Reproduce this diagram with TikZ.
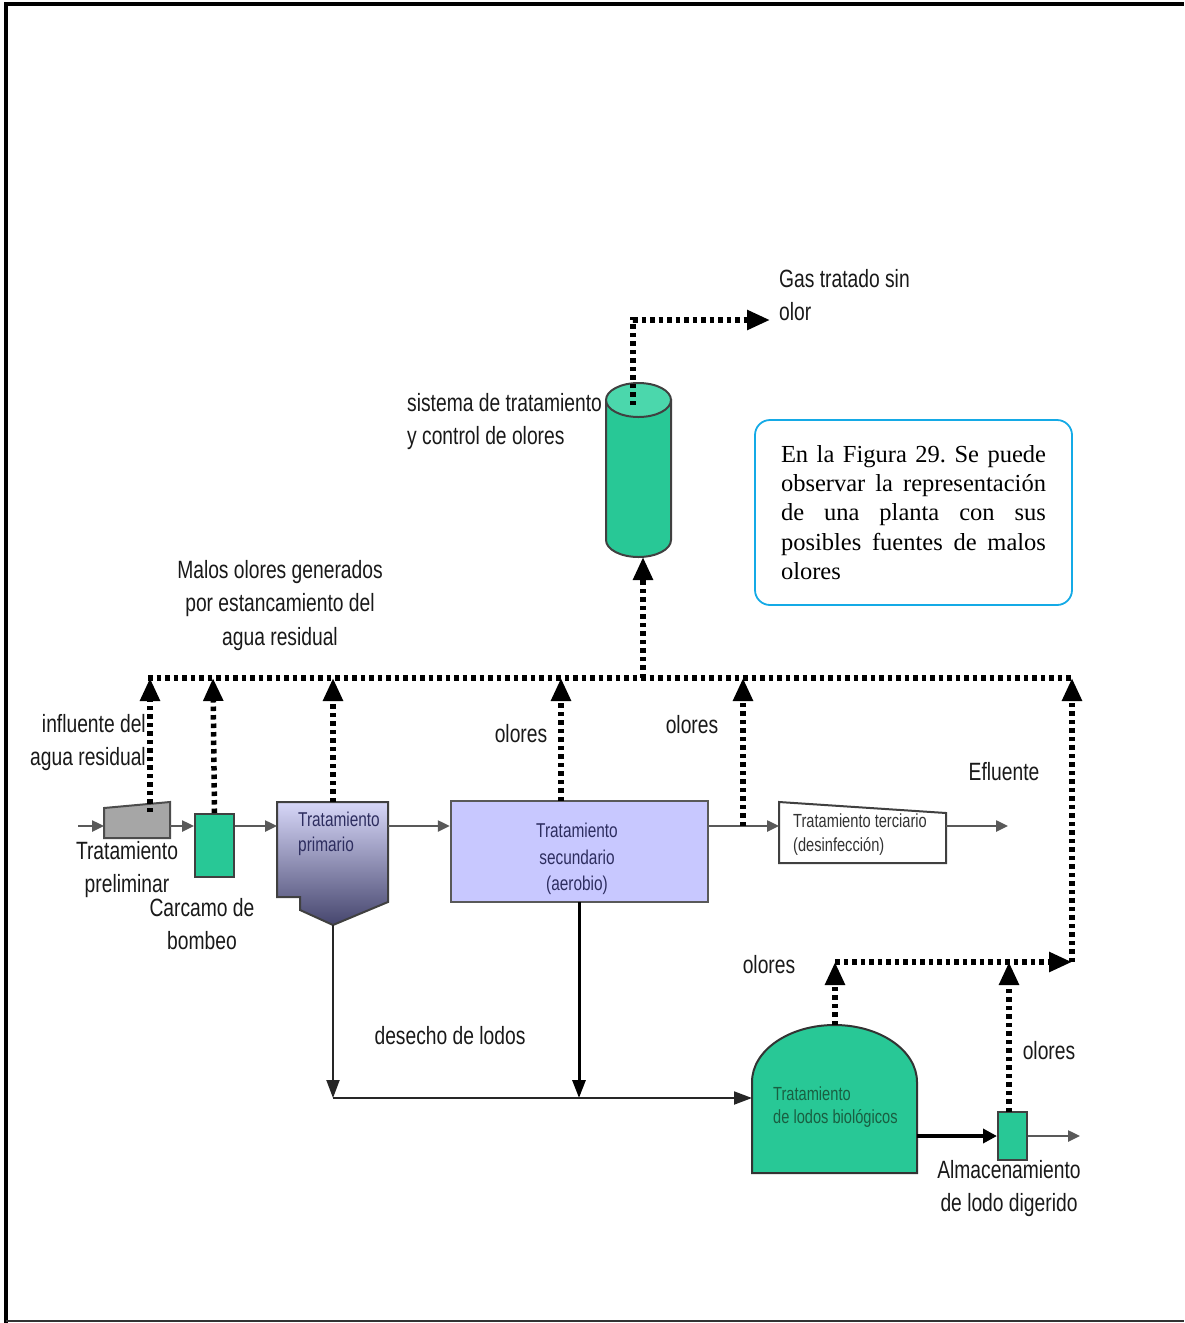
\documentclass[tikz,border=0pt]{standalone}
\usepackage{fontspec}
\setmainfont{Liberation Serif}
\newfontfamily\labfont[FakeStretch=0.77]{Liberation Sans}
\usetikzlibrary{arrows.meta}
\definecolor{plantgreen}{RGB}{40,200,150}
\definecolor{topgreen}{RGB}{75,215,172}
\definecolor{lav}{RGB}{200,200,255}
\definecolor{boxcyan}{RGB}{20,170,230}
\definecolor{navytxt}{RGB}{45,45,95}
\definecolor{greentxt}{RGB}{25,95,65}
\definecolor{pritop}{RGB}{215,215,248}
\definecolor{pribot}{RGB}{70,70,110}
\tikzset{
  lbl/.style={font=\labfont\fontsize{25}{33.5}\selectfont, text=black!90, inner sep=0pt},
  boxlbl/.style={font=\labfont\fontsize{20}{25}\selectfont, inner sep=0pt},
  odor/.style={line width=5.5pt, dash pattern=on 4.5pt off 4pt, draw=black},
  odorarrow/.style={odor, -{Triangle[length=23pt,width=19pt]}},
  flow/.style={line width=2.5pt, draw=black!65, -{Triangle[length=12pt,width=11pt]}},
  sludge/.style={line width=2pt, draw=black!85, -{Triangle[length=18pt,width=13pt]}},
  greenbox/.style={draw=black!75, line width=2pt, fill=plantgreen, inner sep=0pt},
  secbox/.style={draw=black!65, line width=2.5pt, fill=lav, inner sep=0pt},
  textbox/.style={draw=boxcyan, line width=1.8pt, rounded corners=15pt, fill=white},
}
\begin{document}
\begin{tikzpicture}[x=1pt,y=-1pt]
\useasboundingbox (0,0) rectangle (1184,1323);
% frame
\draw[line width=4pt] (6,1323) -- (6,4) -- (1184,4);
\draw[line width=2pt, black!80] (6,1321) -- (1184,1321);

% ---------- process units ----------
\draw[fill=black!35, draw=black!70, line width=2pt] (104,808) -- (170,802) -- (170,838) -- (104,838) -- cycle;
\coordinate (preW) at (104,826);
\coordinate (preE) at (170,826);
\coordinate (preO) at (150,812);

\node[greenbox, minimum width=39pt, minimum height=63pt] (carc) at (214.5,845.5) {};

\draw[top color=pritop, bottom color=pribot, draw=black!75, line width=2pt]
  (277,802) -- (388,802) -- (388,902) -- (333,925) -- (300,910) -- (300,897) -- (277,897) -- cycle;
\coordinate (priW) at (277,826);
\coordinate (priE) at (388,826);
\coordinate (priN) at (333,802);
\coordinate (priB) at (333,925);
\node[boxlbl, text=navytxt, anchor=north west, align=left] (pritxt) at (298,812) {Tratamiento\\primario};

\node[secbox, minimum width=257pt, minimum height=101pt] (sec) at (579.5,851.5) {};
\node[boxlbl, text=navytxt, anchor=north, align=center, font=\labfont\fontsize{20}{26.5}\selectfont] (sectxt) at (577,823) {Tratamiento\\secundario\\(aerobio)};
\coordinate (secO) at (561,801);
\coordinate (secB) at (579,902);

\draw[fill=white, draw=black!75, line width=2pt] (779,802) -- (946,813) -- (946,863) -- (779,863) -- cycle;
\coordinate (terW) at (779,826);
\coordinate (terE) at (946,826);
\node[boxlbl, text=black!80, anchor=north west, align=left, font=\labfont\fontsize{19}{24}\selectfont] (tertxt) at (793,814) {Tratamiento terciario\\(desinfección)};

% cylinder
\draw[fill=plantgreen, draw=black!75, line width=2pt] (606,400) -- (606,540)
  arc[start angle=180, end angle=360, x radius=32.5pt, y radius=17pt] -- (671,400) -- cycle;
\draw[fill=topgreen, draw=black!75, line width=2pt] (638.5,400) ellipse [x radius=32.5pt, y radius=17pt];
\coordinate (cylB) at (643,557);
\coordinate (cylT) at (633,405);

% sludge digester
\draw[fill=plantgreen, draw=black!80, line width=2pt] (752,1173) -- (752,1082)
  arc[start angle=180, end angle=0, x radius=82.5pt, y radius=57pt] -- (917,1173) -- cycle;
\coordinate (domeW) at (752,1098);
\coordinate (domeE) at (917,1136);
\coordinate (domeT) at (835,1025);
\node[boxlbl, text=greentxt, anchor=north west, align=left, font=\labfont\fontsize{19}{23}\selectfont] (domtxt) at (773,1087) {Tratamiento\\de lodos biológicos};

\node[greenbox, minimum width=29pt, minimum height=48pt] (stor) at (1012.5,1136) {};
\coordinate (storO) at (1009,1112);

% ---------- flow connectors ----------
\coordinate (in) at (78,826);
\coordinate (eff) at (1008,826);
\coordinate (mid) at (743,826);
\draw[flow] (in) -- (preW);
\draw[flow] (preE) -- (carc.west |- preE);
\draw[flow] (carc.east |- preE) -- (priW);
\draw[flow] (priE) -- (sec.west |- priE);
\draw[flow] (sec.east |- mid) -- (terW);
\draw[flow] (terE) -- (eff);

% sludge lines
\coordinate (j1) at (333,1098);
\coordinate (j2) at (579,1098);
\draw[sludge] (priB) -- (j1);
\draw[sludge, line width=3pt, draw=black] (secB) -- (j2);
\draw[sludge] (j1) -- (domeW);
\draw[line width=4pt, draw=black, -{Triangle[length=14pt,width=14pt]}] (domeE) -- (stor.west);
\coordinate (out) at (1080,1136);
\draw[flow] (stor.east) -- (out);

% ---------- odour collection ----------
\coordinate (colL) at (148,678);
\coordinate (colR) at (1072,678);
\draw[odor] (colL) -- (colR);
\coordinate (c1) at (150,678);
\coordinate (c2) at (213,678);
\coordinate (c3) at (333,678);
\coordinate (c4) at (561,678);
\coordinate (c5) at (743,678);
\coordinate (c6) at (643,678);
\draw[odorarrow] (preO) -- (c1);
\draw[odorarrow] (carc.north) -- (c2);
\draw[odorarrow] (priN) -- (c3);
\draw[odorarrow] (secO) -- (c4);
\draw[odorarrow] (mid) -- (c5);
\draw[odorarrow] (c6) -- (cylB);
\coordinate (gasK) at (633,320);
\coordinate (gasE) at (770,320);
\draw[odorarrow] (cylT) -- (gasK) -- (gasE);

\coordinate (l1) at (835,962);
\coordinate (l2) at (1009,962);
\coordinate (l3) at (1072,962);
\draw[odorarrow] (l1) -- (l3);
\draw[odorarrow] (l3) -- (colR);
\draw[odorarrow] (domeT) -- (l1);
\draw[odorarrow] (storO) -- (l2);

% ---------- labels ----------
\node[lbl, anchor=north, align=center] (malos) at (280,560) {Malos olores generados\\por estancamiento del\\agua residual};
\node[lbl, anchor=north west, align=left] (sist) at (407,393) {sistema de tratamiento\\y control de olores};
\node[lbl, anchor=north west, align=left] (gas) at (779,269) {Gas tratado sin\\olor};
\node[lbl, anchor=north east, align=right] (influ) at (146,714) {influente del\\agua residual};
\node[lbl, anchor=north, align=center] (prelim) at (127,841) {Tratamiento\\preliminar};
\node[lbl, anchor=north, align=center] (carctxt) at (202,898) {Carcamo de\\bombeo};
\node[lbl, anchor=north] (ol1) at (521,724) {olores};
\node[lbl, anchor=north] (ol2) at (692,715) {olores};
\node[lbl, anchor=north] (eftxt) at (1004,762) {Efluente};
\node[lbl, anchor=north] (desecho) at (450,1026) {desecho de lodos};
\node[lbl, anchor=north] (ol3) at (769,955) {olores};
\node[lbl, anchor=north] (ol4) at (1049,1041) {olores};
\node[lbl, anchor=north, align=center] (alm) at (1009,1160) {Almacenamiento\\de lodo digerido};

% note box
\node[textbox, text width=265pt, minimum width=317pt, minimum height=185pt, inner xsep=26pt, align=justify,
  font=\fontsize{24.5}{29.3}\selectfont] (note) at (913.5,512.5)
  {\frenchspacing En la Figura 29. Se puede\linebreak observar la representación\linebreak de una planta con sus\linebreak posibles fuentes de malos\linebreak olores};
\end{tikzpicture}
\end{document}
